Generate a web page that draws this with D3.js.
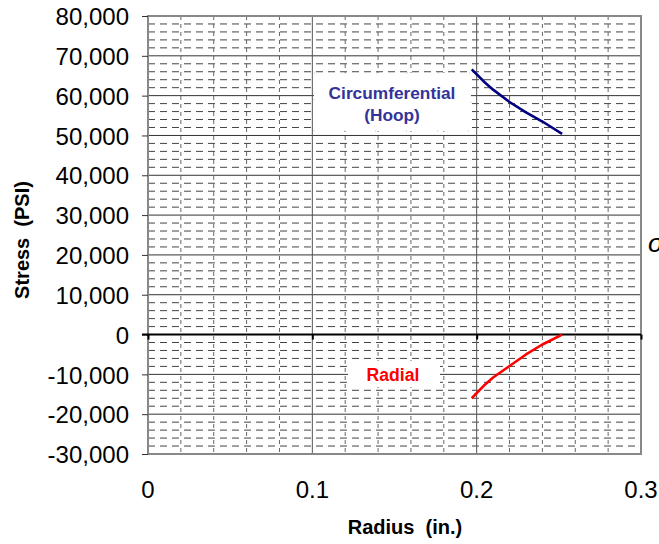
<!DOCTYPE html>
<html><head><meta charset="utf-8">
<script src="https://cdn.jsdelivr.net/npm/d3@7"></script>
<style>body{margin:0;background:#fff}svg{display:block}text{font-family:Arial,"Liberation Sans",sans-serif}</style>
</head><body>
<script>
const radius = [0.197, 0.205, 0.21, 0.22, 0.23, 0.24, 0.252];
const hoopStress = [66600, 63300, 61500, 58400, 55800, 53500, 50400];
const radialStress = [-16000, -12600, -10800, -7900, -5000, -2500, 0];
const yTicks = [80000,70000,60000,50000,40000,30000,20000,10000,0,-10000,-20000,-30000];
const xTicks = [0, 0.1, 0.2, 0.3];
const xMinor = d3.range(0, 0.3001, 0.02);
const yMinor = d3.range(-30000, 80001, 2000);

const W = 659, H = 544;
const svg = d3.select("body").append("svg").attr("width", W).attr("height", H);
const x = d3.scaleLinear().domain([0, 0.3]).range([148, 641]);
const y = d3.scaleLinear().domain([-30000, 80000]).range([454, 16]);

const g = svg.append("g");
// minor horizontal dashed grid
g.selectAll(".hm").data(yMinor.filter(v => v % 10000 !== 0)).join("line")
  .attr("x1", x(0)).attr("x2", x(0.3)).attr("y1", d => y(d)).attr("y2", d => y(d))
  .attr("stroke", "#444").attr("stroke-width", 1).attr("stroke-dasharray", "7,5");
// minor vertical dashed grid
g.selectAll(".vm").data(xMinor.filter(v => Math.abs(v*10 - Math.round(v*10)) > 1e-6)).join("line")
  .attr("y1", y(80000)).attr("y2", y(-30000)).attr("x1", d => x(d)).attr("x2", d => x(d))
  .attr("stroke", "#666").attr("stroke-width", 1).attr("stroke-dasharray", "4,4");
// major grid
g.selectAll(".hM").data(yTicks).join("line")
  .attr("x1", x(0)).attr("x2", x(0.3)).attr("y1", d => y(d)).attr("y2", d => y(d))
  .attr("stroke", "#333").attr("stroke-width", 1);
g.selectAll(".vM").data([0.1, 0.2]).join("line")
  .attr("y1", y(80000)).attr("y2", y(-30000)).attr("x1", d => x(d)).attr("x2", d => x(d))
  .attr("stroke", "#555").attr("stroke-width", 1);

// label boxes
svg.append("rect").attr("x", 314).attr("y", 73).attr("width", 157).attr("height", 58)
  .attr("fill", "#fff").attr("stroke", "#999").attr("stroke-width", 0.6).attr("stroke-dasharray", "1,30");
svg.append("rect").attr("x", 348).attr("y", 361).attr("width", 92).attr("height", 26)
  .attr("fill", "#fff");

// plot border
svg.append("rect").attr("x", x(0)).attr("y", y(80000)).attr("width", x(0.3) - x(0)).attr("height", y(-30000) - y(80000))
  .attr("fill", "none").attr("stroke", "#888").attr("stroke-width", 2);

// y axis
const fmt = d3.format(",");
const yAxis = d3.axisLeft(y).tickValues(yTicks).tickSize(6).tickFormat(d => fmt(d).replace("\u2212", "-"));
const ya = svg.append("g").attr("transform", `translate(${x(0)},0)`).call(yAxis);
ya.select(".domain").remove();
ya.selectAll(".tick line").attr("stroke", "#333");
ya.selectAll(".tick text").attr("x", -19).attr("font-size", 24).attr("fill", "#000")
  .style("font-family", "Arial, 'Liberation Sans', sans-serif").attr("dy", "0.36em");

// zero line
svg.append("line").attr("x1", x(0) - 6).attr("x2", x(0.3)).attr("y1", y(0)).attr("y2", y(0))
  .attr("stroke", "#000").attr("stroke-width", 2);
// x ticks at zero line
const xAxis = d3.axisBottom(x).tickValues(xTicks).tickSize(5).tickFormat("");
const xa = svg.append("g").attr("transform", `translate(0,${y(0)})`).call(xAxis);
xa.select(".domain").remove();
xa.selectAll(".tick line").attr("stroke", "#000").attr("stroke-width", 2);
// x tick labels at bottom
svg.append("g").selectAll("text").data(xTicks).join("text")
  .attr("x", d => x(d)).attr("y", 498).attr("text-anchor", "middle").attr("font-size", 24)
  .text(d => d === 0 ? "0" : d3.format(".1f")(d));

// lines
const line = d3.line().x(d => x(d[0])).y(d => y(d[1]));
svg.append("path").datum(radius.map((r, i) => [r, hoopStress[i]])).attr("d", line)
  .attr("fill", "none").attr("stroke", "#000080").attr("stroke-width", 2.6).attr("stroke-linejoin", "round");
svg.append("path").datum(radius.map((r, i) => [r, radialStress[i]])).attr("d", line)
  .attr("fill", "none").attr("stroke", "#ff0000").attr("stroke-width", 2.6).attr("stroke-linejoin", "round");

// labels
svg.append("text").attr("x", 392).attr("y", 99).attr("text-anchor", "middle").attr("font-size", 17.3)
  .attr("font-weight", "bold").attr("fill", "#333399").text("Circumferential");
svg.append("text").attr("x", 392).attr("y", 121).attr("text-anchor", "middle").attr("font-size", 17.3)
  .attr("font-weight", "bold").attr("fill", "#333399").text("(Hoop)");
svg.append("text").attr("x", 393).attr("y", 381).attr("text-anchor", "middle").attr("font-size", 17.6)
  .attr("font-weight", "bold").attr("fill", "#ff0000").text("Radial");

// axis titles
svg.append("text").attr("transform", "translate(29,240) rotate(-90)").attr("text-anchor", "middle")
  .attr("font-size", 20).attr("font-weight", "bold").attr("xml:space", "preserve").text("Stress  (PSI)");
svg.append("text").attr("x", 405).attr("y", 534).attr("text-anchor", "middle")
  .attr("font-size", 20).attr("font-weight", "bold").attr("xml:space", "preserve").text("Radius  (in.)");

// clipped symbol at right edge (clipped in the reference too)
svg.append("text").attr("x", 648).attr("y", 252).attr("font-size", 26).attr("font-style", "italic")
  .attr("font-family", "Times New Roman, Liberation Serif, serif").text("σ");
</script>
</body></html>
